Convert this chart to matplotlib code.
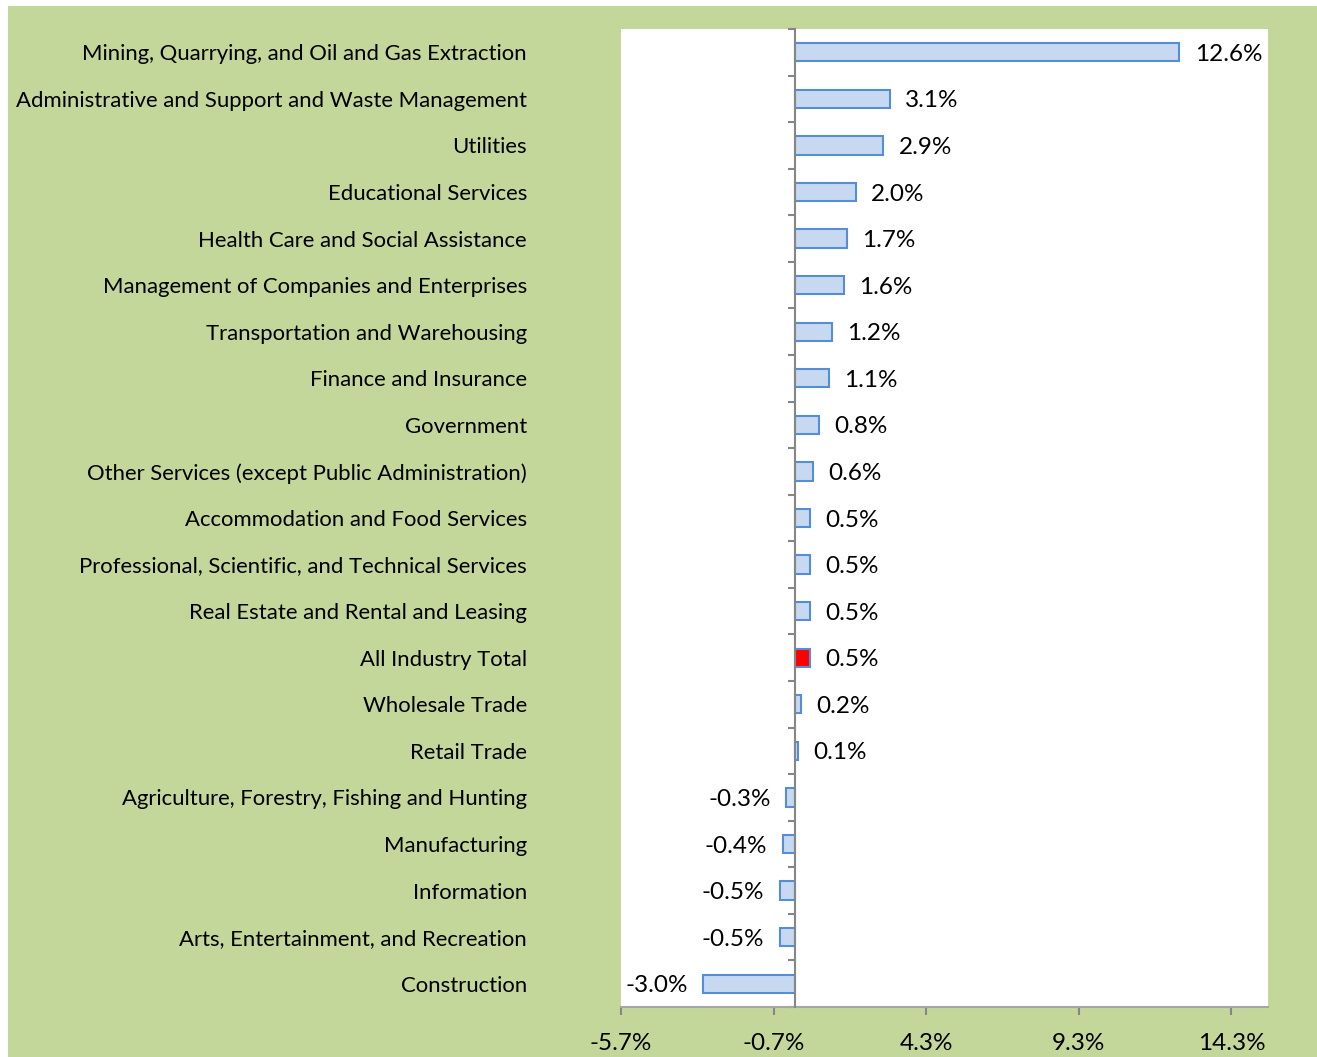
import matplotlib.pyplot as plt
from matplotlib.patches import Rectangle
from matplotlib.ticker import FixedLocator

# Industries, top to bottom
industries = [
    'Mining, Quarrying, and Oil and Gas Extraction',
    'Administrative and Support and Waste Management',
    'Utilities',
    'Educational Services',
    'Health Care and Social Assistance',
    'Management of Companies and Enterprises',
    'Transportation and Warehousing',
    'Finance and Insurance',
    'Government',
    'Other Services (except Public Administration)',
    'Accommodation and Food Services',
    'Professional, Scientific, and Technical Services',
    'Real Estate and Rental and Leasing',
    'All Industry Total',
    'Wholesale Trade',
    'Retail Trade',
    'Agriculture, Forestry, Fishing and Hunting',
    'Manufacturing',
    'Information',
    'Arts, Entertainment, and Recreation',
    'Construction',
]
growth = [12.6, 3.1, 2.9, 2.0, 1.7, 1.6, 1.2, 1.1, 0.8, 0.6, 0.5,
          0.5, 0.5, 0.5, 0.2, 0.1, -0.3, -0.4, -0.5, -0.5, -3.0]
x_ticks = [-5.7, -0.7, 4.3, 9.3, 14.3]

plt.rcParams['font.family'] = ['Lato', 'DejaVu Sans']

W, H = 1317, 1057
fig = plt.figure(figsize=(W / 100, H / 100), dpi=100, facecolor='white')
fig.patches.append(Rectangle((8 / W, 0), 1 - 8 / W, (H - 6) / H,
                             transform=fig.transFigure, facecolor='#C4D79B',
                             edgecolor='none', zorder=-10))

ax = fig.add_axes([621 / W, (H - 1007) / H, (1268 - 621) / W, (1007 - 29) / H])
ax.set_facecolor('white')

pos = list(range(len(industries)))
colors = ['#FF0000' if n == 'All Industry Total' else '#C6D9F1' for n in industries]
ax.barh(pos, growth, height=0.39, color=colors, edgecolor='#558ED5', linewidth=1.5, zorder=3)

# data labels outside the bar ends
for y, v in zip(pos, growth):
    if v >= 0:
        ax.annotate(f'{v:.1f}%', (v, y), xytext=(11, -1.5), textcoords='offset points',
                    ha='left', va='center', fontsize=17.5, color='black')
    else:
        ax.annotate(f'{v:.1f}%', (v, y), xytext=(-11, -1.5), textcoords='offset points',
                    ha='right', va='center', fontsize=17.5, color='black')

ax.set_xlim(-5.7, 15.5)
ax.set_ylim(len(industries) - 0.5, -0.5)
ax.set_xticks(x_ticks)
ax.set_xticklabels([f'{t:.1f}%' for t in x_ticks])

ax.set_yticks(pos)
ax.set_yticklabels(industries)
ax.yaxis.set_minor_locator(FixedLocator([i - 0.5 for i in range(len(industries) + 1)]))

for s in ['top', 'right']:
    ax.spines[s].set_visible(False)
ax.spines['left'].set_position(('data', 0))
ax.spines['left'].set_color('#868686')
ax.spines['left'].set_linewidth(1.5)
ax.spines['bottom'].set_color('#A6A6A6')
ax.spines['bottom'].set_linewidth(1.5)
ax.spines['left'].set_zorder(4)

ax.tick_params(axis='y', which='major', length=0, pad=193, labelsize=15.9)
ax.tick_params(axis='y', which='minor', length=5, width=1.5, color='#868686')
ax.tick_params(axis='x', length=6, width=1.5, color='#868686', pad=13, labelsize=17.5)

fig.savefig('out.png', dpi=100, facecolor=fig.get_facecolor())
